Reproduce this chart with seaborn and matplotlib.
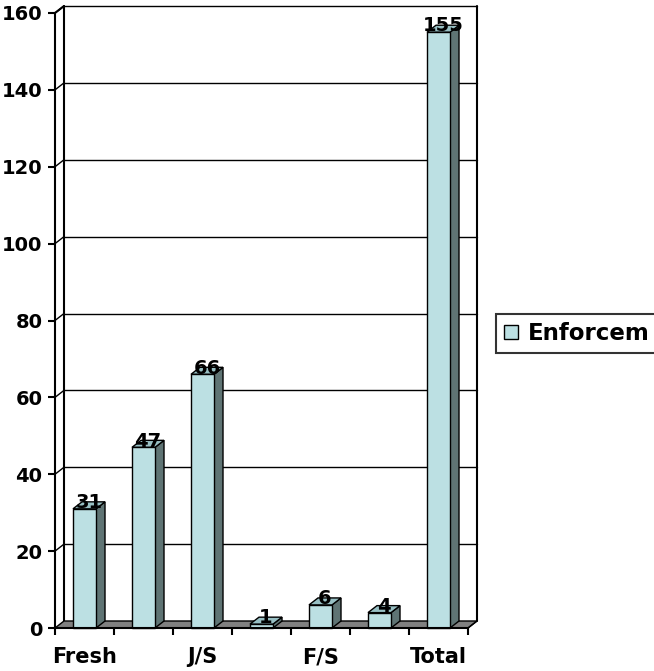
import matplotlib
matplotlib.use("Agg")
import matplotlib.pyplot as plt
import seaborn as sns
import pandas as pd
from matplotlib.patches import Polygon, Patch

# ---- data ----
categories = ["Fresh", "Soph", "J/S", "Junior", "F/S", "Senior", "Total"]
tick_labels = ["Fresh", "", "J/S", "", "F/S", "", "Total"]
values = [31, 47, 66, 1, 6, 4, 155]
series_name = "Enforcem"
y_ticks = [0, 20, 40, 60, 80, 100, 120, 140, 160]

sns.set_theme(style="white")
plt.rcParams['font.family'] = ['DejaVu Sans']
plt.rcParams['font.weight'] = 'bold'
plt.rcParams['text.color'] = 'black'

FRONT = "#BCE0E3"
SIDE = "#5F7474"
TOP = "#98C0C4"
FLOOR = "#808080"

W, H = 654, 671
fig = plt.figure(figsize=(W / 100, H / 100), dpi=100)
ax = fig.add_axes([55 / W, 43 / H, 413 / W, 615 / H])

df = pd.DataFrame({"cat": categories, "val": values})
sns.barplot(data=df, x="cat", y="val", color=FRONT, width=0.39,
            edgecolor="black", linewidth=1.0, saturation=1, ax=ax, zorder=5)

ax.set_xlim(-0.5, len(categories) - 0.5)
ax.set_ylim(0, 160)

# 3D depth offsets (in data units)
DX = 9 / (413 / len(categories))
DY = 7 / (615 / 160)
x0a, x1a = -0.5, len(categories) - 0.5

# back wall gridlines and side-wall diagonals
for v in y_ticks[1:]:
    ax.plot([x0a + DX, x1a + DX], [v + DY, v + DY], color="black", lw=1.0,
            clip_on=False, zorder=1)
    ax.plot([x0a, x0a + DX], [v, v + DY], color="black", lw=1.0,
            clip_on=False, zorder=1)
# back wall verticals
for xx in (x0a + DX, x1a + DX):
    ax.plot([xx, xx], [DY, 160 + DY], color="black", lw=1.5, clip_on=False, zorder=1)

# floor
floor = Polygon([(x0a, 0), (x1a, 0), (x1a + DX, DY), (x0a + DX, DY)],
                closed=True, facecolor=FLOOR, edgecolor="black", lw=1.0,
                clip_on=False, zorder=2)
ax.add_patch(floor)

# 3D faces of bars
for p, v in zip(ax.patches[:len(values)], values):
    bx, bw, bh = p.get_x(), p.get_width(), p.get_height()
    side = Polygon([(bx + bw, 0), (bx + bw, bh), (bx + bw + DX, bh + DY), (bx + bw + DX, DY)],
                   closed=True, facecolor=SIDE, edgecolor="black", lw=1.0,
                   clip_on=False, zorder=4)
    top = Polygon([(bx, bh), (bx + bw, bh), (bx + bw + DX, bh + DY), (bx + DX, bh + DY)],
                  closed=True, facecolor=TOP, edgecolor="black", lw=1.0,
                  clip_on=False, zorder=4)
    ax.add_patch(side)
    ax.add_patch(top)
    p.set_clip_on(False)
    ax.text(bx + bw / 2 + DX / 2, bh + DY * 0.9, f"{v}", ha="center", va="center",
            fontsize=14, fontweight="bold", color="black", zorder=10, clip_on=False)

# axes styling
for s in ("top", "right"):
    ax.spines[s].set_visible(False)
for s in ("left", "bottom"):
    ax.spines[s].set_color("black")
    ax.spines[s].set_linewidth(1.5)
    ax.spines[s].set_zorder(6)
ax.patch.set_alpha(0)
ax.grid(False)
ax.set_xlabel("")
ax.set_ylabel("")

ax.set_yticks(y_ticks)
ax.set_yticklabels([str(t) for t in y_ticks])
ax.tick_params(axis="y", which="major", direction="out", length=5, width=1.5,
               color="black", pad=4, labelsize=14, left=True)
ax.set_xticks(range(len(categories)))
ax.set_xticklabels(tick_labels)
ax.tick_params(axis="x", which="major", length=0, pad=14, labelsize=15)
ax.set_xticks([i - 0.5 for i in range(len(categories) + 1)], minor=True)
ax.tick_params(axis="x", which="minor", direction="out", length=5, width=1.5,
               color="black", bottom=True)
for lab in ax.get_xticklabels() + ax.get_yticklabels():
    lab.set_fontweight("bold")
    lab.set_color("black")

# diagonals connecting front axes to back wall
ax.plot([x0a, x0a + DX], [160, 160 + DY], color="black", lw=1.5, clip_on=False, zorder=1)
ax.plot([x1a, x1a + DX], [0, DY], color="black", lw=1.0, clip_on=False, zorder=3)

# legend (frame runs off the right edge, as in the reference)
handle = Patch(facecolor=FRONT, edgecolor="black", linewidth=1.0)
leg = fig.legend([handle], [series_name], loc="upper left",
                 bbox_to_anchor=(496 / W, 1 - 314 / H), borderaxespad=0,
                 frameon=True, fancybox=False, shadow=False,
                 prop={"weight": "bold", "size": 16.5},
                 handlelength=0.6, handleheight=0.6, handletextpad=0.45,
                 borderpad=0.35)
leg.get_frame().set_edgecolor("black")
leg.get_frame().set_linewidth(1.5)
for t in leg.get_texts():
    t.set_color("black")

fig.savefig("out.png", dpi=100)
